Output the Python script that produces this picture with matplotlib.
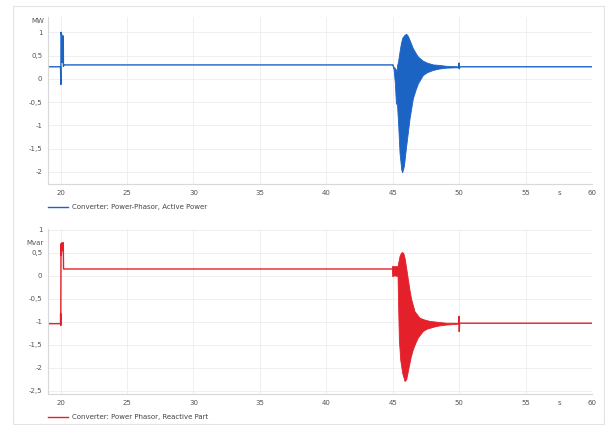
import numpy as np
import matplotlib
matplotlib.use("Agg")
import matplotlib.pyplot as plt
from matplotlib.lines import Line2D
from matplotlib.patches import Rectangle
from matplotlib.ticker import FuncFormatter

# Active power (MW) - plain line parts
p_time = [19.05, 19.99, 20.02, 20.03, 20.04, 20.12, 20.13, 20.19, 20.2, 20.21, 20.25, 45.0]
p_val = [0.26, 0.26, -0.12, 1.0, 0.97, 0.92, 0.35, 0.92, 0.92, 0.27, 0.3, 0.3]
p_tail_time = [49.99, 50.0, 50.01, 50.05, 60.0]
p_tail_val = [0.24, 0.34, 0.22, 0.26, 0.26]
# Active power oscillation envelope (45 s .. 50 s)
p_up_time = [45.0, 45.1, 45.25, 45.33, 45.36, 45.43, 45.55, 45.65, 45.75, 45.9, 46.05, 46.18,
             46.3, 46.55, 46.75, 46.93, 47.3, 47.6, 48.05, 48.5, 49.05, 50.0]
p_up_val = [0.3, 0.25, 0.2, 0.15, 0.28, 0.35, 0.58, 0.75, 0.87, 0.93, 0.96, 0.91,
            0.83, 0.65, 0.55, 0.47, 0.38, 0.34, 0.3, 0.29, 0.27, 0.26]
p_lo_time = [45.0, 45.1, 45.2, 45.28, 45.35, 45.45, 45.55, 45.68, 45.75, 45.88, 46.05, 46.18,
             46.3, 46.55, 46.75, 46.93, 47.3, 47.6, 48.05, 48.5, 49.05, 50.0]
p_lo_val = [0.3, 0.2, -0.1, -0.55, -0.5, -1.01, -1.6, -1.96, -2.02, -1.88, -1.45, -1.15,
            -0.87, -0.43, -0.25, -0.11, 0.07, 0.13, 0.18, 0.21, 0.23, 0.24]

# Reactive power (Mvar) - plain line parts
q_time = [19.05, 19.99, 20.0, 20.01, 20.03, 20.05, 20.1, 20.15, 20.2, 20.22, 44.97]
q_val = [-1.04, -1.04, -0.82, -1.08, 0.7, 0.45, 0.72, 0.55, 0.72, 0.15, 0.15]
q_tail_time = [49.99, 50.0, 50.01, 50.03, 60.0]
q_tail_val = [-1.04, -0.88, -1.21, -1.03, -1.03]
# Reactive power oscillation envelope
q_up_time = [44.97, 45.0, 45.1, 45.4, 45.45, 45.55, 45.65, 45.75, 45.85, 45.93, 46.05, 46.18,
             46.3, 46.43, 46.68, 47.05, 47.4, 47.8, 48.4, 49.05, 50.0]
q_up_val = [0.15, 0.21, 0.2, 0.2, 0.28, 0.42, 0.49, 0.51, 0.47, 0.38, 0.16, -0.09,
            -0.32, -0.52, -0.78, -0.92, -0.96, -0.99, -1.01, -1.03, -1.03]
q_lo_time = [44.97, 45.0, 45.1, 45.4, 45.44, 45.5, 45.6, 45.75, 45.93, 46.05, 46.25, 46.4,
             46.55, 46.75, 46.93, 47.3, 47.6, 48.05, 48.5, 49.05, 50.0]
q_lo_val = [0.15, -0.02, 0.0, -0.01, -0.6, -1.39, -1.83, -2.12, -2.3, -2.26, -1.97, -1.76,
            -1.61, -1.46, -1.35, -1.21, -1.16, -1.12, -1.09, -1.07, -1.05]

x_ticks = [20, 25, 30, 35, 40, 45, 50, 55, 60]
p_ticks = [1, 0.5, 0, -0.5, -1, -1.5, -2]
q_ticks = [1, 0.5, 0, -0.5, -1, -1.5, -2, -2.5]

blue = '#1c64c4'
red = '#e4202a'
W, H = 606, 425

fig = plt.figure(figsize=(W / 100, H / 100), dpi=100)

# thin frame around the whole chart
fig.add_artist(Rectangle((13 / W, 1 - 424 / H), 591 / W, 418 / H, transform=fig.transFigure,
                         fill=False, edgecolor='#e3e3e3', linewidth=0.8))


def comma(v, pos):
    return ('%g' % v).replace('.', ',')


def style(ax, yticks, ylim):
    ax.set_xlim(19.05, 60)
    ax.set_ylim(*ylim)
    ax.set_xticks(x_ticks)
    ax.set_yticks(yticks)
    ax.yaxis.set_major_formatter(FuncFormatter(comma))
    ax.tick_params(length=0, labelsize=5, colors='#555555', pad=4)
    ax.grid(True, color='#ececec', linewidth=0.6)
    ax.set_axisbelow(True)
    for s in ['top', 'right']:
        ax.spines[s].set_visible(False)
    for s in ['left', 'bottom']:
        ax.spines[s].set_color('#d8d8d8')
        ax.spines[s].set_linewidth(0.8)


def fx(px):
    return px / W


def fy(py):
    return 1 - py / H


# top panel: active power
ax1 = fig.add_axes([fx(48), fy(184), fx(592) - fx(48), fy(17) - fy(184)])
style(ax1, p_ticks, (-2.26, 1.33))
ax1.plot(p_time, p_val, color=blue, lw=1.0)
ax1.plot(p_tail_time, p_tail_val, color=blue, lw=1.0)
ax1.fill(p_up_time + p_lo_time[::-1], p_up_val + p_lo_val[::-1],
         color=blue, lw=0.6, edgecolor=blue)

# bottom panel: reactive power
ax2 = fig.add_axes([fx(48), fy(394), fx(592) - fx(48), fy(229) - fy(394)])
style(ax2, q_ticks, (-2.57, 1.02))
ax2.plot(q_time, q_val, color=red, lw=1.0)
ax2.plot(q_tail_time, q_tail_val, color=red, lw=1.0)
ax2.fill(q_up_time + q_lo_time[::-1], q_up_val + q_lo_val[::-1],
         color=red, lw=0.6, edgecolor=red)

# unit labels
fig.text(fx(44), fy(21), 'MW', fontsize=5, color='#555555', ha='right', va='center')
fig.text(fx(44), fy(243), 'Mvar', fontsize=5, color='#555555', ha='right', va='center')
fig.text(fx(559), fy(193), 's', fontsize=5, color='#555555', ha='center', va='center')
fig.text(fx(559), fy(403), 's', fontsize=5, color='#555555', ha='center', va='center')

# legends
for py, col, label in [(207, blue, 'Converter: Power-Phasor, Active Power'),
                       (417, red, 'Converter: Power Phasor, Reactive Part')]:
    fig.add_artist(Line2D([fx(48), fx(68)], [fy(py), fy(py)], color=col, lw=1.0,
                          transform=fig.transFigure))
    fig.text(fx(72), fy(py), label, fontsize=5, color='#444444', ha='left', va='center')

fig.savefig('out.png', dpi=100)
